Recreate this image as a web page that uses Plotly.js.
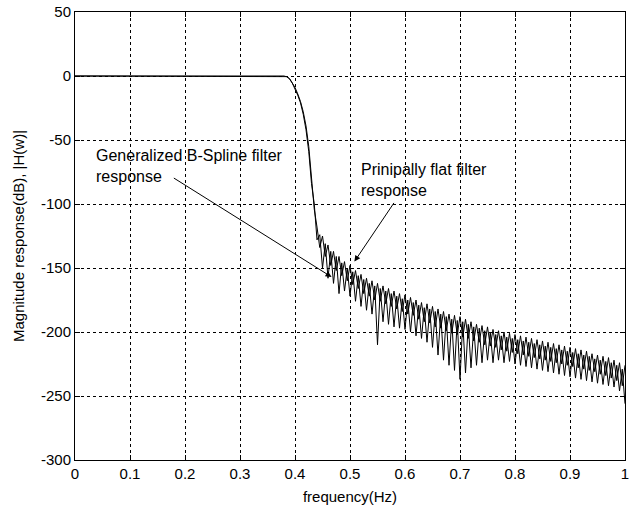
<!DOCTYPE html>
<html>
<head>
<meta charset="utf-8">
<script src="https://cdn.plot.ly/plotly-3.0.1.min.js"></script>
<style>
html,body{margin:0;padding:0;background:#fff;}
#chart{width:630px;height:508px;}
</style>
</head>
<body>
<div id="chart"></div>
<script>
// Frequency samples (Hz, normalized)
var freq = [0, 0.1, 0.2, 0.3, 0.37, 0.38, 0.385, 0.39, 0.395, 0.4, 0.405, 0.41, 0.415, 0.42, 0.425, 0.43, 0.435,
  0.44,0.445,0.45,0.455,0.46,0.465,0.47,0.475,0.48,0.485,0.49,0.495,0.5,0.505,0.51,0.515,0.52,0.525,0.53,0.535,
  0.54,0.545,0.55,0.555,0.56,0.565,0.57,0.575,0.58,0.585,0.59,0.595,0.6,0.605,0.61,0.615,0.62,0.625,0.63,0.635,
  0.64,0.645,0.65,0.655,0.66,0.665,0.67,0.675,0.68,0.685,0.69,0.695,0.7,0.705,0.71,0.715,0.72,0.725,0.73,0.735,
  0.74,0.745,0.75,0.755,0.76,0.765,0.77,0.775,0.78,0.785,0.79,0.795,0.8,0.805,0.81,0.815,0.82,0.825,0.83,0.835,
  0.84,0.845,0.85,0.855,0.86,0.865,0.87,0.875,0.88,0.885,0.89,0.895,0.9,0.905,0.91,0.915,0.92,0.925,0.93,0.935,
  0.94,0.945,0.95,0.955,0.96,0.965,0.97,0.975,0.98,0.985,0.99,0.995,1.0];

// Principally flat filter response (dB)
var flatResp = [0,0,0,0,0,0,-0.5,-2,-5,-9,-14,-20,-28,-39,-55,-80,-104,
  -118,-134,-125,-141,-132,-148,-137,-152,-141,-156,-145,-160,-148,-163,-152,-166,-155,-170,-158,-172,
  -160,-175,-162,-176,-164,-178,-166,-180,-168,-182,-170,-184,-171,-186,-173,-187,-175,-190,-177,-192,
  -178,-193,-180,-196,-182,-197,-184,-199,-186,-201,-187,-202,-188,-204,-190,-205,-192,-207,-194,-208,
  -195,-210,-196,-211,-198,-212,-199,-214,-200,-215,-201,-216,-202,-217,-203,-218,-204,-219,-205,-220,
  -206,-221,-207,-222,-208,-223,-209,-224,-210,-225,-211,-226,-212,-227,-213,-228,-214,-229,-215,-230,
  -217,-231,-218,-233,-219,-234,-220,-236,-222,-238,-224,-242,-226];

// Generalized B-Spline filter response (dB)
var bsplineResp = [0,0,0,0,0,0,-0.6,-2.2,-5.5,-10,-15,-21,-30,-42,-59,-84,-100,
  -128,-124,-150,-131,-158,-137,-162,-141,-170,-146,-168,-150,-172,-153,-176,-156,-180,-159,-183,-162,
  -186,-164,-210,-166,-192,-168,-194,-170,-196,-172,-197,-174,-198,-175,-200,-177,-203,-179,-205,-181,
  -208,-182,-212,-184,-218,-186,-222,-188,-226,-190,-230,-191,-237,-192,-232,-194,-228,-196,-226,-197,
  -224,-199,-222,-200,-224,-202,-222,-203,-224,-204,-223,-205,-225,-206,-226,-207,-227,-208,-228,-209,
  -229,-210,-230,-211,-231,-212,-232,-213,-233,-214,-234,-215,-235,-216,-236,-217,-237,-218,-238,-219,
  -239,-221,-240,-222,-241,-223,-242,-224,-243,-226,-246,-229,-256];

// Tick labels
var xTickVals = [0,0.1,0.2,0.3,0.4,0.5,0.6,0.7,0.8,0.9,1];
var xTickText = ['0','0.1','0.2','0.3','0.4','0.5','0.6','0.7','0.8','0.9','1'];
var yTickVals = [50,0,-50,-100,-150,-200,-250,-300];
var yTickText = ['50','0','-50','-100','-150','-200','-250','-300'];

var tickFont = {family: 'Liberation Sans Narrow, Arial Narrow, Liberation Sans, Arial, sans-serif', size: 15, color: '#000'};
var textFont = {family: 'Liberation Sans, Arial, sans-serif', size: 16, color: '#000'};
var titleFont = {family: 'Liberation Sans, Arial, sans-serif', size: 15, color: '#000'};

var traces = [
  {x: freq, y: bsplineResp, type: 'scatter', mode: 'lines', line: {color: '#000', width: 1}, name: 'Generalized B-Spline', hoverinfo: 'x+y'},
  {x: freq, y: flatResp, type: 'scatter', mode: 'lines', line: {color: '#000', width: 1}, name: 'Principally flat', hoverinfo: 'x+y'}
];

var axisCommon = {
  showline: true, mirror: 'allticks', linecolor: '#000', linewidth: 1,
  ticks: 'inside', ticklen: 5, tickcolor: '#000', tickwidth: 1,
  showgrid: true, gridcolor: '#000', gridwidth: 1, griddash: '3px,3px',
  zeroline: false, tickfont: tickFont, ticklabeloverflow: 'allow'
};

var layout = {
  width: 630, height: 508,
  margin: {l: 75, r: 5, t: 12, b: 48},
  paper_bgcolor: '#fff', plot_bgcolor: '#fff',
  showlegend: false,
  xaxis: Object.assign({}, axisCommon, {
    range: [0, 1], tickmode: 'array', tickvals: xTickVals, ticktext: xTickText,
    title: {text: 'frequency(Hz)', font: titleFont, standoff: 10}
  }),
  yaxis: Object.assign({}, axisCommon, {
    range: [-300, 50], tickmode: 'array', tickvals: yTickVals, ticktext: yTickText,
    title: {text: 'Magnitude response(dB), |H(w)|', font: titleFont, standoff: 12}
  }),
  annotations: [
    {xref: 'x', yref: 'y', x: 0.034, y: -54, xanchor: 'left', yanchor: 'top', align: 'left',
     text: 'Generalized B-Spline filter<br>response', showarrow: false, font: textFont},
    {xref: 'x', yref: 'y', x: 0.517, y: -65, xanchor: 'left', yanchor: 'top', align: 'left',
     text: 'Prinipally flat filter<br>response', showarrow: false, font: textFont},
    {xref: 'x', yref: 'y', axref: 'x', ayref: 'y', x: 0.4665, y: -157, ax: 0.177, ay: -79,
     text: '', showarrow: true, arrowhead: 2, arrowsize: 1.2, arrowwidth: 1, arrowcolor: '#000'},
    {xref: 'x', yref: 'y', axref: 'x', ayref: 'y', x: 0.508, y: -145, ax: 0.5817, ay: -98,
     text: '', showarrow: true, arrowhead: 2, arrowsize: 1.2, arrowwidth: 1, arrowcolor: '#000'}
  ]
};

Plotly.newPlot('chart', traces, layout, {displayModeBar: false, staticPlot: true});
</script>
</body>
</html>
